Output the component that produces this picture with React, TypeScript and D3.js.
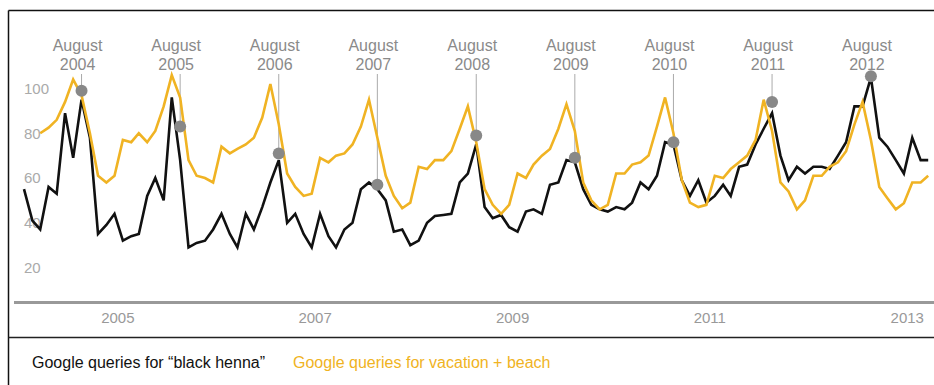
import React from "react";
import * as d3 from "d3";

// Monthly values, Jan 2004 – Mar 2013
const blackHenna = [
  55, 41, 37, 56, 53, 89, 69, 95, 78, 35, 39, 44,
  32, 34, 35, 52, 60, 50, 96, 68, 29, 31, 32, 37,
  44, 35, 29, 44, 37, 47, 58, 68, 40, 44, 35, 29,
  44, 34, 29, 37, 40, 55, 58, 55, 50, 36, 37, 30,
  32, 40, 43, 43.5, 44, 58, 62, 75, 47, 42, 43.5, 38,
  36, 45, 46, 44, 57, 58, 68, 67, 55, 48, 46, 45,
  47, 46, 49, 58, 55, 61, 76, 75, 59, 52, 59, 49,
  52, 57, 52, 65, 66, 75, 82, 89, 70, 59, 65, 62,
  65, 65, 64, 70, 76, 92, 92, 105, 78, 74, 68, 62,
  78, 68, 68,
];

// Monthly values, Mar 2004 – Mar 2013
const vacationBeach = [
  80, 82.5, 86, 94, 104, 97, 80, 61, 58, 61,
  77, 76, 80, 76, 81, 92, 106, 96, 68, 61, 60, 58,
  74, 71, 73, 75, 78, 87, 102, 84, 62, 56, 52, 53,
  69, 67, 70, 71, 75, 83, 95, 78, 61, 52, 46.5, 49,
  65, 64, 68, 68, 72, 82, 92, 76, 55, 48, 44, 48,
  62, 60, 66, 70, 73, 82, 93, 81, 58, 50, 46, 48,
  62, 62, 66, 67, 70, 83, 96, 80, 59, 49, 47, 48,
  61, 60, 64, 67, 70, 77, 95, 81, 58, 54, 46, 50,
  61, 61, 65, 67, 72, 84, 94, 77, 56, 51, 46, 48.7,
  58, 58, 61,
];

const augustYears = [2004, 2005, 2006, 2007, 2008, 2009, 2010, 2011, 2012];
const augustValues = [99, 83, 71, 57, 79, 69, 76, 94, 105.5];

const yTicks = [100, 80, 60, 40, 20];
const xTickYears = [2005, 2007, 2009, 2011, 2013];

const FONT = '"Liberation Sans", Arial, Helvetica, sans-serif';
const ORANGE = "#F0B323";
const BLACK = "#111111";

export default function App() {
  const W = 934;
  const H = 385;
  const x = d3
    .scaleTime()
    .domain([new Date(2004, 0, 1), new Date(2013, 2, 1)])
    .range([24, 928.2]);
  const y = d3.scaleLinear().domain([0, 100]).range([312.25, 88.5]);

  const blackData = blackHenna.map((v, i) => ({ d: new Date(2004, i, 1), v }));
  const orangeData = vacationBeach.map((v, i) => ({ d: new Date(2004, i + 2, 1), v }));

  const line = d3
    .line<{ d: Date; v: number }>()
    .x((p) => x(p.d))
    .y((p) => y(p.v));

  const ann = augustYears.map((yr, i) => ({
    yr,
    cx: x(new Date(yr, 7, 1)),
    cy: y(augustValues[i]),
  }));

  return (
    <svg
      width={W}
      height={H}
      style={{ position: "absolute", left: 0, top: 0, background: "#fff" }}
      fontFamily={FONT}
    >
      <rect x={0} y={0} width={W} height={H} fill="#fff" />
      {/* frame */}
      <line x1={8.5} y1={10.5} x2={W} y2={10.5} stroke="#111" strokeWidth={1.5} />
      <line x1={8.5} y1={10.5} x2={8.5} y2={H} stroke="#111" strokeWidth={1.5} />
      <line x1={8.5} y1={337.5} x2={W} y2={337.5} stroke="#222" strokeWidth={1.5} />

      {/* y tick labels */}
      {yTicks.map((t) => (
        <text key={t} x={24} y={y(t) + 5.3} fontSize={15} fill="#aaaaaa">
          {t}
        </text>
      ))}

      {/* baseline */}
      <line x1={14} y1={302.5} x2={W} y2={302.5} stroke="#999" strokeWidth={3} />

      {/* x tick labels */}
      {xTickYears.map((yr) => (
        <text
          key={yr}
          x={x(new Date(yr, 0, 1)) - 5}
          y={323}
          fontSize={15}
          fill="#999"
          textAnchor="middle"
        >
          {yr}
        </text>
      ))}

      {/* annotation labels and leaders */}
      {ann.map((a) => (
        <g key={a.yr}>
          <text x={a.cx - 4} y={51} fontSize={16} fill="#8a8a8a" textAnchor="middle">
            August
          </text>
          <text x={a.cx - 4} y={70} fontSize={16} fill="#8a8a8a" textAnchor="middle">
            {a.yr}
          </text>
          <line x1={a.cx} y1={74} x2={a.cx} y2={a.cy} stroke="#aaa" strokeWidth={1} />
        </g>
      ))}

      {/* series */}
      <path d={line(blackData) || ""} fill="none" stroke={BLACK} strokeWidth={2.6} strokeLinejoin="miter" />
      <path d={line(orangeData) || ""} fill="none" stroke={ORANGE} strokeWidth={2.6} strokeLinejoin="miter" />

      {/* dots */}
      {ann.map((a) => (
        <circle key={a.yr} cx={a.cx} cy={a.cy} r={6} fill="#888" />
      ))}

      {/* legend */}
      <text x={32} y={368} fontSize={16} fill="#111">
        Google queries for “black henna”
      </text>
      <text x={293} y={368} fontSize={16} fill={ORANGE}>
        Google queries for vacation + beach
      </text>
    </svg>
  );
}
